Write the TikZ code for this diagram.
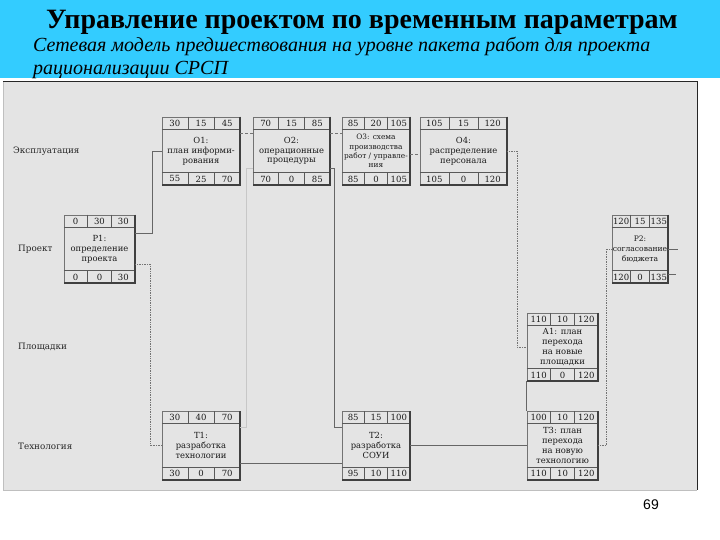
\documentclass[tikz,border=0pt]{standalone}
\usepackage{fontspec}
\setmainfont{Liberation Serif}
\newfontfamily\pagefont{Liberation Sans}
\newfontfamily\boxfont{DejaVu Serif}
\usetikzlibrary{calc}

\definecolor{banner}{RGB}{51,204,255}
\definecolor{panel}{RGB}{228,228,228}

\tikzset{
  task/.style={draw=black!55, line width=0.5pt, fill=panel, inner sep=0pt,
    minimum height=68, align=center, text=black!90,
    font=\boxfont\fontsize{8.4}{9.8}\selectfont},
  cellnum/.style={inner sep=0pt, text=black!90, font=\boxfont\fontsize{8.5}{9}\selectfont},
  rowline/.style={draw=black!65, line width=0.6pt},
  boxedge/.style={draw=black!75, line width=1.8pt},
  lane/.style={anchor=west, inner sep=0pt, text=black!85, font=\boxfont\fontsize{8.8}{9}\selectfont},
  link/.style={draw=black!60, line width=0.7pt},
  faintlink/.style={draw=black!22, line width=0.9pt},
  dashlink/.style={draw=black!55, line width=0.6pt, dash pattern=on 3pt off 2pt},
  dotlink/.style={draw=black!55, line width=0.7pt, densely dotted}
}

\newcommand{\cells}[7]{%
  \draw[rowline] ($(#1.north west)+(0,12.5)$) -- ($(#1.north east)+(0,12.5)$);
  \draw[rowline] ($(#1.south west)+(0,-12.5)$) -- ($(#1.south east)+(0,-12.5)$);
  \foreach \f in {0.3333,0.6667} {
    \draw[rowline] ($(#1.north west)!\f!(#1.north east)$) -- ++(0,12.5);
    \draw[rowline] ($(#1.south west)!\f!(#1.south east)$) -- ++(0,-12.5);
  }
  \node[cellnum] (#1-es) at ($(#1.north west)!0.1667!(#1.north east)+(0,6.5)$) {#2};
  \node[cellnum] (#1-d) at ($(#1.north west)!0.5!(#1.north east)+(0,6.5)$) {#3};
  \node[cellnum] (#1-ef) at ($(#1.north west)!0.8333!(#1.north east)+(0,6.5)$) {#4};
  \node[cellnum] (#1-ls) at ($(#1.south west)!0.1667!(#1.south east)+(0,-6.3)$) {#5};
  \node[cellnum] (#1-f) at ($(#1.south west)!0.5!(#1.south east)+(0,-6.3)$) {#6};
  \node[cellnum] (#1-lf) at ($(#1.south west)!0.8333!(#1.south east)+(0,-6.3)$) {#7};
  \draw[boxedge] (#1.north east) -- (#1.south east) -- (#1.south west);
}

\begin{document}
\begin{tikzpicture}[x=1pt, y=-1pt]
  \useasboundingbox (0,0) rectangle (720,540);
  \fill[white] (0,0) rectangle (720,540);
  \fill[banner] (0,0) rectangle (720,78);
  \node[font=\bfseries\fontsize{28}{28}\selectfont] (title) at (362,22) {Управление проектом по временным параметрам};
  \node[anchor=west, inner sep=0pt, font=\itshape\fontsize{20}{20}\selectfont] (sub1) at (33,47) {Сетевая модель предшествования на уровне пакета работ для проекта};
  \node[anchor=west, inner sep=0pt, font=\itshape\fontsize{20}{20}\selectfont] (sub2) at (33,70) {рационализации СРСП};

  \fill[panel] (3,82) rectangle (697,490);
  \draw[black!25, line width=0.6pt] (3,82) -- (3,490) -- (697,490);
  \draw[black!85, line width=1pt] (3,82) -- (697,82) -- (697,490);

  \node[lane] (expl) at (13,151) {Эксплуатация};
  \node[lane] (proj) at (18,249) {Проект};
  \node[lane] (site) at (18,347) {Площадки};
  \node[lane] (tech) at (18,446) {Технология};

  \node[task, minimum width=78] (O1) at (201,151) {О1:\\план информи-\\рования};
  \node[task, minimum width=77] (O2) at (291.5,151) {О2:\\операционные\\процедуры};
  \node[task, minimum width=68, font=\boxfont\fontsize{7.4}{9.4}\selectfont] (O3) at (376,151) {О3: схема\\производства\\работ / управле-\\ния};
  \node[task, minimum width=87] (O4) at (463.5,151) {О4:\\распределение\\персонала};
  \node[task, minimum width=71] (P1) at (99.5,249) {Р1:\\определение\\проекта};
  \node[task, minimum width=56, font=\boxfont\fontsize{7.6}{9.8}\selectfont] (P2) at (640,249) {Р2:\\согласование\\бюджета};
  \node[task, minimum width=71] (A1) at (562.5,347) {А1: план\\перехода\\на новые\\площадки};
  \node[task, minimum width=78] (T1) at (201,445.5) {Т1:\\разработка\\технологии};
  \node[task, minimum width=68] (T2) at (376,445.5) {Т2:\\разработка\\СОУИ};
  \node[task, minimum width=71] (T3) at (562.5,445.5) {Т3: план\\перехода\\на новую\\технологию};

  \cells{O1}{30}{15}{45}{55}{25}{70}
  \cells{O2}{70}{15}{85}{70}{0}{85}
  \cells{O3}{85}{20}{105}{85}{0}{105}
  \cells{O4}{105}{15}{120}{105}{0}{120}
  \cells{P1}{0}{30}{30}{0}{0}{30}
  \cells{P2}{120}{15}{135}{120}{0}{135}
  \cells{A1}{110}{10}{120}{110}{0}{120}
  \cells{T1}{30}{40}{70}{30}{0}{70}
  \cells{T2}{85}{15}{100}{95}{10}{110}
  \cells{T3}{100}{10}{120}{110}{10}{120}

  \draw[link] ([yshift=16pt]P1.east) -- ++(17,0) |- (O1.west);
  \draw[dotlink] ([yshift=-15pt]P1.east) -- ++(15,0) |- (T1.west);
  \draw[dashlink] ([yshift=18pt]O1.east) -- ([yshift=18pt]O2.west);
  \draw[dashlink] ([yshift=18pt]O2.east) -- ([yshift=18pt]O3.west);
  \draw[dashlink] ([yshift=-3pt]O3.east) -- ([yshift=-3pt]O4.west);
  \draw[dotlink] (O4.east) -- ++(10,0) |- (A1.west);
  \draw[dotlink] (T3.east) -- ++(8,0) |- (P2.west);
  \draw[faintlink] ([yshift=18pt]T1.east) -- ++(6,0) |- ([yshift=-17pt]O2.west);
  \draw[link] ([yshift=-17pt]O2.east) -- ++(4,0) |- ([yshift=18pt]T2.west);
  \draw[link] ([yshift=-18pt]T1.east) -- ([yshift=-18pt]T2.west);
  \draw[link] (T2.east) -- (T3.west);
  \draw[link] (A1.south west) -- (T3.north west);
  \draw[link] (P2.east) -- ++(10,0) coordinate (p2out);
  \draw[link] ([yshift=-25pt]P2.east) -- ++(8,0) coordinate (p2end);

  \node[font=\pagefont\fontsize{14}{14}\selectfont] (page) at (651,505) {69};
\end{tikzpicture}
\end{document}
